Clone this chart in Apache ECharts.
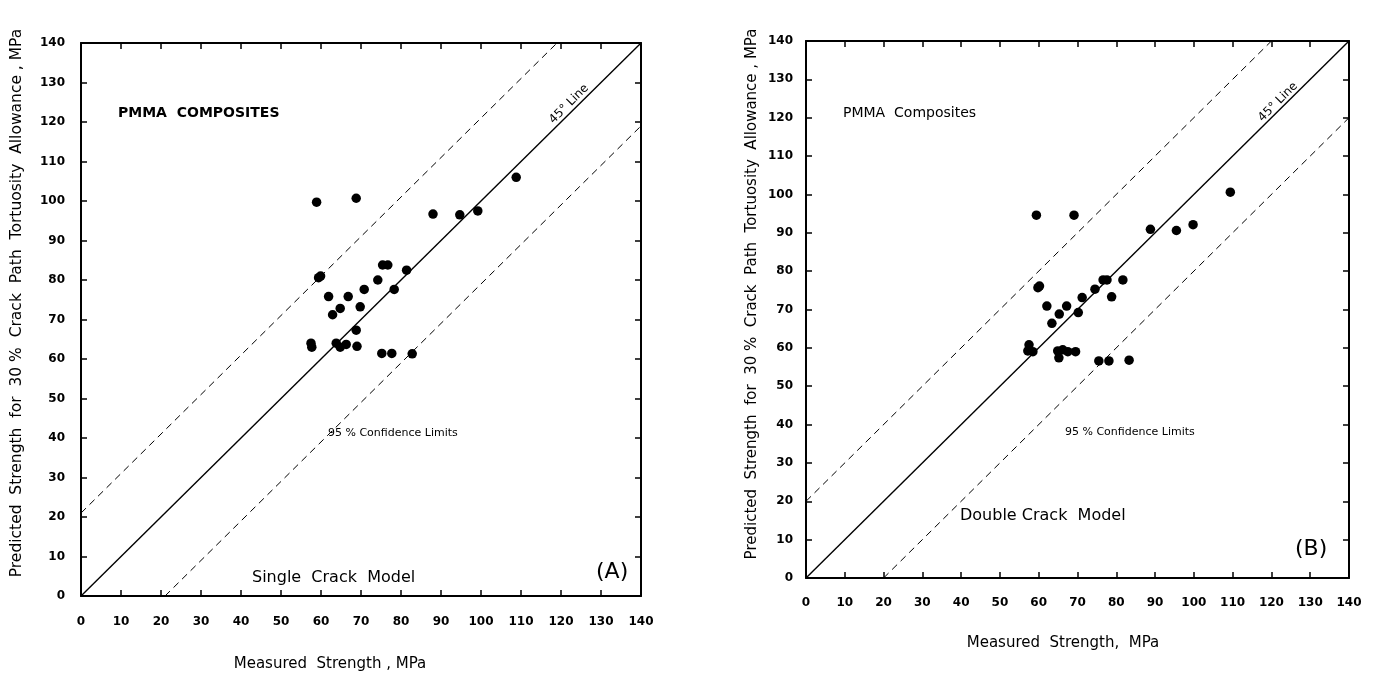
<!DOCTYPE html>
<html><head><meta charset="utf-8">
<script src="https://cdn.jsdelivr.net/npm/echarts@6/dist/echarts.min.js"></script>
<style>html,body{margin:0;padding:0;background:#fff;}#c{width:1373px;height:682px;}</style>
</head><body><div id="c"></div>
<script>
// ---- Data ----
var tickLabels = ['0','10','20','30','40','50','60','70','80','90','100','110','120','130','140'];
// Panel A: Single Crack Model  [measured, predicted]
var pointsA = [
 [58.9,99.7],[68.8,100.7],[108.8,106.0],[88.0,96.7],[94.7,96.5],[99.2,97.5],
 [75.4,83.8],[76.7,83.8],[81.4,82.5],[59.4,80.6],[59.9,81.0],[74.2,80.0],
 [70.8,77.6],[78.3,77.6],[61.9,75.8],[66.8,75.8],[64.8,72.8],[69.8,73.2],
 [62.9,71.2],[68.8,67.3],[57.5,64.0],[57.7,63.0],[63.8,64.0],[64.8,63.0],
 [66.3,63.7],[69.0,63.2],[75.2,61.4],[77.7,61.4],[82.8,61.3]
];
// Panel B: Double Crack Model
var pointsB = [
 [59.4,94.6],[69.1,94.6],[109.4,100.6],[88.8,90.9],[95.5,90.6],[99.8,92.1],
 [76.6,77.7],[77.6,77.7],[81.7,77.7],[59.8,75.7],[60.2,76.1],[74.5,75.3],
 [71.2,73.1],[78.8,73.3],[62.1,70.9],[67.2,70.9],[65.3,68.8],[70.2,69.2],
 [63.4,66.4],[57.5,60.8],[57.2,59.2],[58.5,59.0],[64.9,59.2],[65.2,57.4],
 [66.2,59.5],[67.5,59.0],[69.5,59.0],[75.5,56.6],[78.1,56.6],[83.3,56.8]
];
// reference lines
var lineA45 = [[0,0],[140,140]];
var lineAUp = [[0,21],[119,140]];
var lineALo = [[21,0],[140,119]];
var lineB45 = [[0,0],[140,140]];
var lineBUp = [[0,20],[120,140]];
var lineBLo = [[20,0],[140,120]];

var chart = echarts.init(document.getElementById('c'));
var tickFont = {fontFamily:'DejaVu Sans', fontWeight:'bold', fontSize:12, color:'#000'};
function xAx(gi, pos, labels, margin){
  return {gridIndex:gi, type:'value', min:0, max:140, interval:10, position:pos,
    axisLine:{show:true, onZero:false, lineStyle:{color:'#000', width:2}},
    axisTick:{show:true, inside:true, length:6, lineStyle:{color:'#000', width:1.5}},
    axisLabel:Object.assign({show:labels, margin:margin, formatter:function(v){return tickLabels[v/10];}}, tickFont),
    splitLine:{show:false}};
}
function yAx(gi, pos, labels, margin){
  return {gridIndex:gi, type:'value', min:0, max:140, interval:10, position:pos,
    axisLine:{show:true, onZero:false, lineStyle:{color:'#000', width:2}},
    axisTick:{show:true, inside:true, length:6, lineStyle:{color:'#000', width:1.5}},
    axisLabel:Object.assign({show:labels, margin:margin, formatter:function(v){return tickLabels[v/10];}}, tickFont),
    splitLine:{show:false}};
}
function lineSeries(xi, data, dashed){
  return {type:'line', xAxisIndex:xi, yAxisIndex:xi, data:data, symbol:'none', silent:true,
    lineStyle:{color:'#000', width:dashed?1:1.4, type:dashed?[7,5]:'solid'}};
}
function scat(xi, data){
  return {type:'scatter', xAxisIndex:xi, yAxisIndex:xi, data:data, symbolSize:9.5,
    itemStyle:{color:'#000', opacity:1}};
}
var txtFont = 'DejaVu Sans';
function T(x,y,text,size,opts){
  return Object.assign({type:'text', x:x, y:y, style:Object.assign({text:text, font:(opts&&opts.bold?'bold ':'')+size+'px '+txtFont, fill:'#000', textAlign:'left', textVerticalAlign:'middle'}, opts&&opts.style||{})}, opts&&opts.el||{});
}
var yName = 'Predicted  Strength  for  30 %  Crack  Path  Tortuosity  Allowance , MPa';
var option = {
  animation:false,
  backgroundColor:'#fff',
  grid:[
    {left:81, top:43, width:560, height:553},
    {left:806, top:41, width:543, height:537}
  ],
  xAxis:[xAx(0,'bottom',true,20), xAx(0,'top',false,0), xAx(1,'bottom',true,19), xAx(1,'top',false,0)],
  yAxis:[yAx(0,'left',true,16), yAx(0,'right',false,0), yAx(1,'left',true,13), yAx(1,'right',false,0)],
  series:[
    lineSeries(0,lineA45,false), lineSeries(0,lineAUp,true), lineSeries(0,lineALo,true), scat(0,pointsA),
    lineSeries(2,lineB45,false), lineSeries(2,lineBUp,true), lineSeries(2,lineBLo,true), scat(2,pointsB)
  ],
  graphic:[
    T(118,113,'PMMA  COMPOSITES',14,{bold:true}),
    T(328,433,'95 % Confidence Limits',11),
    T(252,578,'Single  Crack  Model',16),
    T(596,572,'(A)',22),
    T(330,664,'Measured  Strength , MPa',15,{style:{textAlign:'center'}}),
    {type:'text', x:569, y:104, rotation:Math.PI/4, style:{text:'45° Line', font:'12px '+txtFont, fill:'#000', textAlign:'center', textVerticalAlign:'middle'}},
    {type:'text', x:17, y:303, rotation:Math.PI/2, style:{text:yName, font:'15.5px '+txtFont, fill:'#000', textAlign:'center', textVerticalAlign:'middle'}},

    T(843,113,'PMMA  Composites',14),
    T(1065,432,'95 % Confidence Limits',11),
    T(960,516,'Double Crack  Model',16),
    T(1295,549,'(B)',22),
    T(1063,643,'Measured  Strength,  MPa',15,{style:{textAlign:'center'}}),
    {type:'text', x:1278, y:102, rotation:Math.PI/4, style:{text:'45° Line', font:'12px '+txtFont, fill:'#000', textAlign:'center', textVerticalAlign:'middle'}},
    {type:'text', x:752, y:294, rotation:Math.PI/2, style:{text:yName, font:'15px '+txtFont, fill:'#000', textAlign:'center', textVerticalAlign:'middle'}}
  ]
};
chart.setOption(option);
</script></body></html>
